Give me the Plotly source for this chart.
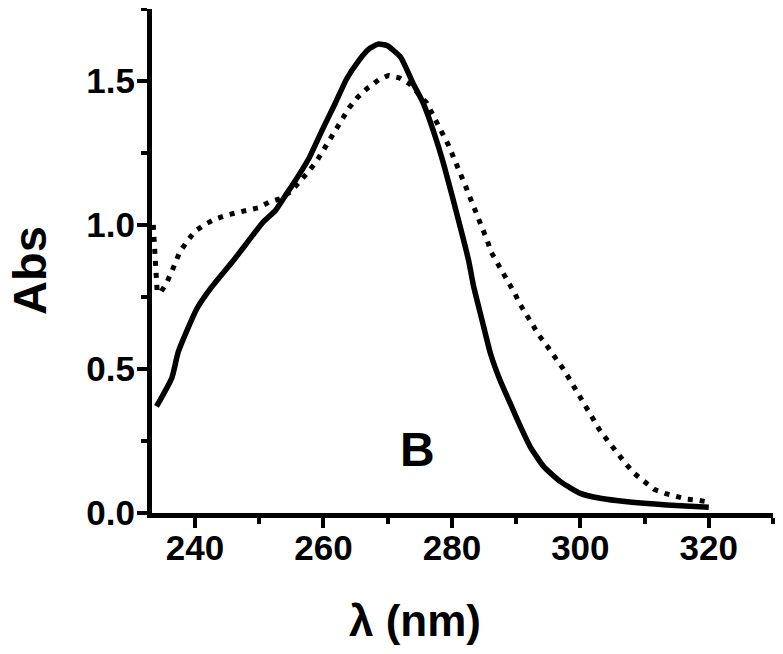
import plotly.graph_objects as go

# Solid spectrum (wavelength in nm, absorbance)
solid_wl = [234.0, 236.4, 237.4, 240.3, 242.6, 246.2, 248.5, 250.6, 252.5, 254.0,
            255.3, 257.7, 260.0, 261.8, 263.6, 265.5, 267.0, 268.5, 269.9, 272.0,
            274.0, 275.6, 277.1, 278.7, 281.3, 282.6, 283.4, 284.7, 286.0, 287.5,
            289.1, 290.7, 292.2, 294.3, 296.9, 300.0, 303.1, 307.3, 313.5, 320.0]
solid_abs = [0.37, 0.47, 0.56, 0.71, 0.785, 0.883, 0.95, 1.01, 1.05, 1.10,
             1.143, 1.23, 1.339, 1.421, 1.507, 1.571, 1.61, 1.628, 1.623, 1.583,
             1.49, 1.42, 1.328, 1.213, 0.993, 0.877, 0.785, 0.669, 0.554, 0.461,
             0.38, 0.299, 0.23, 0.161, 0.109, 0.068, 0.051, 0.039, 0.028, 0.02]

# Dotted spectrum
dot_wl = [233.5, 233.8, 234.1, 234.6, 235.6, 236.4, 236.9, 237.6, 238.8, 240.1,
          241.7, 243.2, 245.0, 246.6, 248.3, 249.9, 251.5, 253.2, 254.8, 256.3,
          257.7, 259.0, 260.0, 261.0, 262.0, 263.0, 264.0, 265.3, 266.9, 268.6,
          270.1, 271.8, 273.4, 276.1, 277.0, 277.9, 278.7, 279.5, 280.2, 280.9,
          281.7, 282.2, 282.9, 283.5, 284.2, 284.8, 285.5, 286.1, 287.0, 288.0,
          288.9, 289.8, 290.6, 291.6, 292.6, 293.6, 294.9, 296.1, 297.2, 298.2,
          299.2, 300.2, 301.1, 302.1, 303.1, 304.3, 305.5, 306.9, 308.3, 310.0,
          311.5, 313.2, 315.0, 316.6, 318.2, 319.7, 320.0]
dot_abs = [1.00, 0.88, 0.77, 0.764, 0.80, 0.84, 0.87, 0.905, 0.945, 0.98,
           1.004, 1.021, 1.035, 1.042, 1.05, 1.06, 1.079, 1.091, 1.114, 1.149,
           1.186, 1.224, 1.261, 1.297, 1.331, 1.369, 1.407, 1.443, 1.476, 1.504,
           1.519, 1.511, 1.49, 1.423, 1.386, 1.349, 1.311, 1.276, 1.238, 1.203,
           1.166, 1.131, 1.091, 1.054, 1.019, 0.985, 0.947, 0.906, 0.871, 0.835,
           0.799, 0.762, 0.725, 0.689, 0.651, 0.616, 0.577, 0.542, 0.505, 0.469,
           0.432, 0.394, 0.36, 0.322, 0.285, 0.25, 0.213, 0.176, 0.139, 0.106,
           0.082, 0.068, 0.057, 0.048, 0.045, 0.039, 0.03]

x_ticks = [240, 260, 280, 300, 320]
y_ticks = [0.0, 0.5, 1.0, 1.5]

FONT = "Liberation Sans, Arial, sans-serif"

fig = go.Figure()
fig.add_trace(go.Scatter(x=dot_wl, y=dot_abs, mode="lines",
                         line=dict(color="black", width=5, dash="5px,7px"),
                         showlegend=False))
fig.add_trace(go.Scatter(x=solid_wl, y=solid_abs, mode="lines",
                         line=dict(color="black", width=5.5, shape="spline", smoothing=0.5),
                         showlegend=False))

axis_common = dict(showline=True, linecolor="black", linewidth=5, showgrid=False,
                   zeroline=False, ticks="outside", tickcolor="black", tickwidth=4,
                   ticklen=10, tickfont=dict(family=FONT, size=35, color="black", weight="bold"))

fig.update_xaxes(range=[233.3, 330], tickvals=x_ticks, ticklabelstandoff=-10,
                 minor=dict(dtick=10, tick0=0, ticks="outside", ticklen=6, tickwidth=4,
                            tickcolor="black", showgrid=False),
                 **axis_common)
fig.update_yaxes(range=[0, 1.75], tickvals=y_ticks, tickformat=".1f", ticklabelstandoff=-5,
                 minor=dict(dtick=0.25, tick0=0, ticks="outside", ticklen=6, tickwidth=4,
                            tickcolor="black", showgrid=False),
                 **axis_common)

# axis titles and panel label
fig.add_annotation(text="λ (nm)", xref="paper", yref="paper", x=(415 - 152) / 621, y=-107 / 504,
                   xanchor="center", yanchor="middle", showarrow=False,
                   font=dict(family=FONT, size=44, color="black", weight="bold"))
fig.add_annotation(text="Abs", xref="paper", yref="paper", x=(30 - 152) / 621, y=(513 - 270) / 504,
                   xanchor="center", yanchor="middle", textangle=-90, showarrow=False,
                   font=dict(family=FONT, size=47, color="black", weight="bold"))
fig.add_annotation(text="B", x=274.7, y=0.222, xanchor="center", yanchor="middle", showarrow=False,
                   font=dict(family=FONT, size=48, color="black", weight="bold"))

# the page body has an 8px margin, so the figure is shrunk to fit the window
fig.update_layout(width=775, height=646, plot_bgcolor="white", paper_bgcolor="white",
                  margin=dict(l=144, r=10, t=1, b=141))

fig.write_html("out.html")
